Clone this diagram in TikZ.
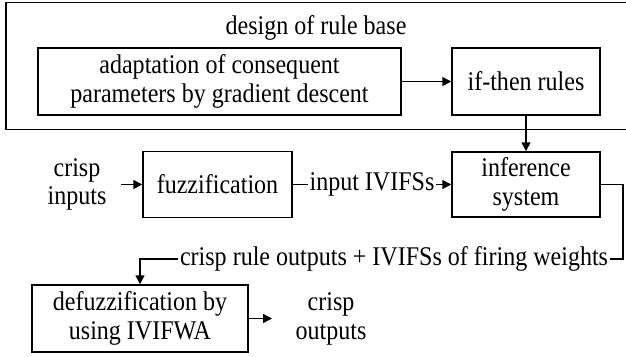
\documentclass[tikz,border=0pt]{standalone}
\usepackage{fontspec}
\setmainfont{Liberation Serif}[FakeStretch=0.89]
\usetikzlibrary{arrows.meta}
\begin{document}
\begin{tikzpicture}[x=1pt,y=-1pt,
  lbl/.style={font=\fontsize{27}{28.5}\selectfont, align=center, inner sep=0pt},
  blk/.style={lbl, draw, line width=1.5pt},
  conn/.style={line width=1.5pt},
  arr/.style={conn, -{Triangle[length=9pt,width=9pt]}}]
\useasboundingbox (0,0) rectangle (626,356);
\node[blk, anchor=north west, minimum width=660pt, minimum height=127pt] (base) at (5,1.5) {};
\node[lbl] (title) at (316,28) {design of rule base};
\node[blk, minimum width=363pt, minimum height=67pt] (adapt) at (219.5,81.5) {adaptation of consequent\\parameters by gradient descent};
\node[blk, minimum width=148pt, minimum height=67pt] (rules) at (526,81.5) {if-then rules};
\node[blk, minimum width=149pt, minimum height=66pt] (fuzz) at (217.5,184.5) {fuzzification};
\node[blk, minimum width=148pt, minimum height=65pt] (infer) at (526,184.5) {inference\\system};
\node[blk, minimum width=216pt, minimum height=67pt] (defuzz) at (140,318.5) {defuzzification by\\using IVIFWA};
\node[lbl] (cin) at (77,184.5) {crisp\\inputs};
\node[lbl] (cout) at (331,319) {crisp\\outputs};
\coordinate (cinstart) at (121,184.5);
\coordinate (corner) at (623,259);
\coordinate (coutend) at (272,318.5);
\draw[arr] (adapt) -- (rules);
\draw[arr] (rules) -- (infer);
\draw[arr] (cinstart) -- (fuzz);
\draw[arr] (fuzz) -- node[lbl, fill=white, inner xsep=2pt] {input IVIFSs} (infer);
\draw[arr] (infer.east) -| (corner) -- node[lbl, fill=white, inner xsep=2pt, pos=0.474] {crisp rule outputs + IVIFSs of firing weights} (corner -| defuzz.north) -- (defuzz.north);
\draw[arr] (defuzz.east |- coutend) -- (coutend);
\end{tikzpicture}
\end{document}
